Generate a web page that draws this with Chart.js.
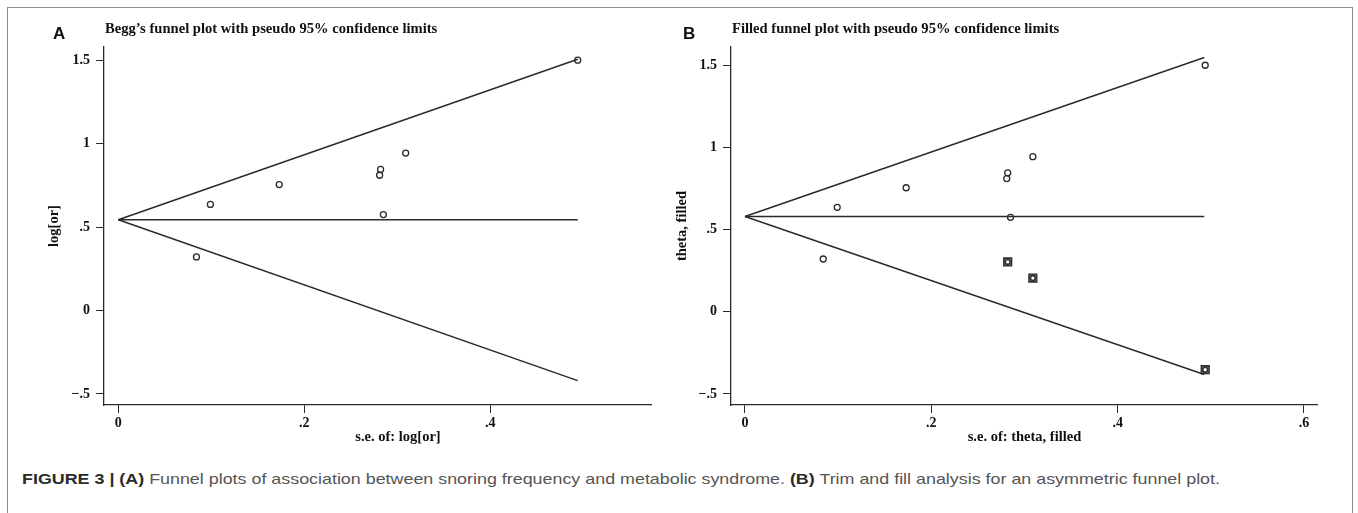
<!DOCTYPE html>
<html>
<head>
<meta charset="utf-8">
<script src="https://cdn.jsdelivr.net/npm/chart.js@4.4.1/dist/chart.umd.min.js"></script>
<style>
  html, body { margin: 0; padding: 0; background: #fff; width: 1358px; height: 513px; overflow: hidden; }
  #frame { position: absolute; left: 7px; top: 7px; width: 1346px; height: 520px; border: 1px solid #8c8c8c; box-sizing: border-box; }
  canvas { position: absolute; top: 0; }
  #chartA { left: 0; }
  #chartB { left: 660px; }
  #caption { position: absolute; left: 22px; top: 471px; font-family: "Liberation Sans", Arial, sans-serif; font-size: 14.5px; color: #555; white-space: nowrap; transform-origin: 0 0; }
  #caption b { color: #2b2b2b; }
</style>
</head>
<body>
<div id="frame"></div>
<canvas id="chartA" width="680" height="450"></canvas>
<canvas id="chartB" width="698" height="450"></canvas>
<div id="caption"><b>FIGURE 3 | (A)</b> Funnel plots of association between snoring frequency and metabolic syndrome. <b>(B)</b> Trim and fill analysis for an asymmetric funnel plot.</div>
<script>
// observed studies (same in both panels)
const studySe = [0.084, 0.099, 0.173, 0.281, 0.282, 0.285, 0.309, 0.494];
const studyLogOr = [0.322, 0.637, 0.756, 0.812, 0.847, 0.576, 0.945, 1.502];

// studies imputed by trim and fill (panel B)
const filledSe = [0.282, 0.309, 0.494];
const filledTheta = [0.304, 0.206, -0.352];

// pseudo 95% limits: [apex, end]
const funnelSeA = [0, 0.494];
const pooledA = [0.545, 0.545];
const upperA = [0.545, 1.508];
const lowerA = [0.545, -0.42];

const funnelSeB = [0, 0.493];
const pooledB = [0.581, 0.581];
const upperB = [0.581, 1.549];
const lowerB = [0.581, -0.381];

// ticks
const yTicks = [-0.5, 0, 0.5, 1, 1.5];
const yTickLabels = ['\u2212.5', '0', '.5', '1', '1.5'];
const xTicksA = [0, 0.2, 0.4];
const xTickLabelsA = ['0', '.2', '.4'];
const xTicksB = [0, 0.2, 0.4, 0.6];
const xTickLabelsB = ['0', '.2', '.4', '.6'];

const ink = '#2a2a2a';
const serif = 'Liberation Serif, Times New Roman, serif';

function pts(xs, ys) {
  return xs.map((x, i) => ({ x: x, y: ys[i] }));
}

function lineSet(xs, ys) {
  return {
    data: pts(xs, ys),
    showLine: true,
    borderColor: ink,
    borderWidth: 1.5,
    pointRadius: 0,
    pointHoverRadius: 0
  };
}

function markerSet(xs, ys, style, r, fill) {
  return {
    data: pts(xs, ys),
    showLine: false,
    pointStyle: style,
    pointRadius: r,
    pointHoverRadius: r,
    pointBorderWidth: 1.3,
    borderColor: ink,
    backgroundColor: fill || 'rgba(0,0,0,0)'
  };
}

// panel letter, title and axis titles, Stata style
const panelText = {
  id: 'panelText',
  afterDraw(chart, args, o) {
    const ctx = chart.ctx;
    ctx.save();
    ctx.fillStyle = '#111';
    ctx.textAlign = 'left';
    ctx.textBaseline = 'alphabetic';
    ctx.font = 'bold 17px Liberation Sans, Arial, sans-serif';
    ctx.fillText(o.letter, o.letterX, 38.5);
    ctx.font = 'bold 14.6px ' + serif;
    ctx.fillText(o.title, o.titleX, 33);
    ctx.textAlign = 'center';
    ctx.font = 'bold 14.5px ' + serif;
    ctx.fillText(o.xTitle, o.xTitleX, 441);
    ctx.translate(o.yTitleX, 226);
    ctx.rotate(-Math.PI / 2);
    ctx.textBaseline = 'middle';
    ctx.fillText(o.yTitle, 0, 0);
    ctx.restore();
  }
};

function makeChart(id, cfg) {
  return new Chart(document.getElementById(id), {
    type: 'scatter',
    data: { datasets: cfg.datasets },
    options: {
      responsive: false,
      animation: false,
      layout: { padding: { left: 0, right: cfg.padRight, top: 47, bottom: 0 } },
      plugins: {
        legend: { display: false },
        tooltip: { enabled: false },
        panelText: cfg.text
      },
      scales: {
        x: {
          type: 'linear',
          min: cfg.xMin,
          max: cfg.xMax,
          afterFit: s => { s.height = 45; },
          afterBuildTicks: s => { s.ticks = cfg.xTicks.map(v => ({ value: v })); },
          grid: { drawOnChartArea: false, drawTicks: true, tickLength: 8, color: ink, lineWidth: 1 },
          border: { display: true, color: ink, width: 1.3 },
          ticks: {
            padding: 2,
            color: '#111',
            maxRotation: 0,
            font: { family: serif, size: 14, weight: 'bold' },
            callback: (v, i) => cfg.xLabels[i]
          }
        },
        y: {
          type: 'linear',
          min: cfg.yMin,
          max: cfg.yMax,
          afterFit: s => { s.width = cfg.yWidth; },
          afterBuildTicks: s => { s.ticks = yTicks.map(v => ({ value: v })); },
          grid: { drawOnChartArea: false, drawTicks: true, tickLength: 8, color: ink, lineWidth: 1 },
          border: { display: true, color: ink, width: 1.3 },
          ticks: {
            padding: 6,
            color: '#111',
            font: { family: serif, size: 14, weight: 'bold' },
            callback: (v, i) => yTickLabels[i]
          }
        }
      }
    },
    plugins: [panelText]
  });
}

makeChart('chartA', {
  datasets: [
    markerSet(studySe, studyLogOr, 'circle', 3),
    lineSet(funnelSeA, pooledA),
    lineSet(funnelSeA, upperA),
    lineSet(funnelSeA, lowerA)
  ],
  xMin: -0.0154, xMax: 0.5728, xTicks: xTicksA, xLabels: xTickLabelsA,
  yMin: -0.566, yMax: 1.581, yWidth: 104, padRight: 29,
  text: {
    letter: 'A', letterX: 53,
    title: 'Begg\u2019s funnel plot with pseudo 95% confidence limits', titleX: 105,
    xTitle: 's.e. of: log[or]', xTitleX: 398,
    yTitle: 'log[or]', yTitleX: 54
  }
});

makeChart('chartB', {
  datasets: [
    markerSet(studySe, studyLogOr, 'circle', 3),
    markerSet(filledSe, filledTheta, 'circle', 2.3, '#fff'),
    markerSet(filledSe, filledTheta, 'rect', 5.6, '#666'),
    lineSet(funnelSeB, pooledB),
    lineSet(funnelSeB, upperB),
    lineSet(funnelSeB, lowerB)
  ],
  xMin: -0.015, xMax: 0.614, xTicks: xTicksB, xLabels: xTickLabelsB,
  yMin: -0.567, yMax: 1.613, yWidth: 71, padRight: 41,
  text: {
    letter: 'B', letterX: 23,
    title: 'Filled funnel plot with pseudo 95% confidence limits', titleX: 72,
    xTitle: 's.e. of: theta, filled', xTitleX: 364.5,
    yTitle: 'theta, filled', yTitleX: 22
  }
});

// the published caption is set wide: stretch it to the printed width
const cap = document.getElementById('caption');
cap.style.transform = 'scaleX(' + (1198 / cap.scrollWidth) + ')';
</script>
</body>
</html>
